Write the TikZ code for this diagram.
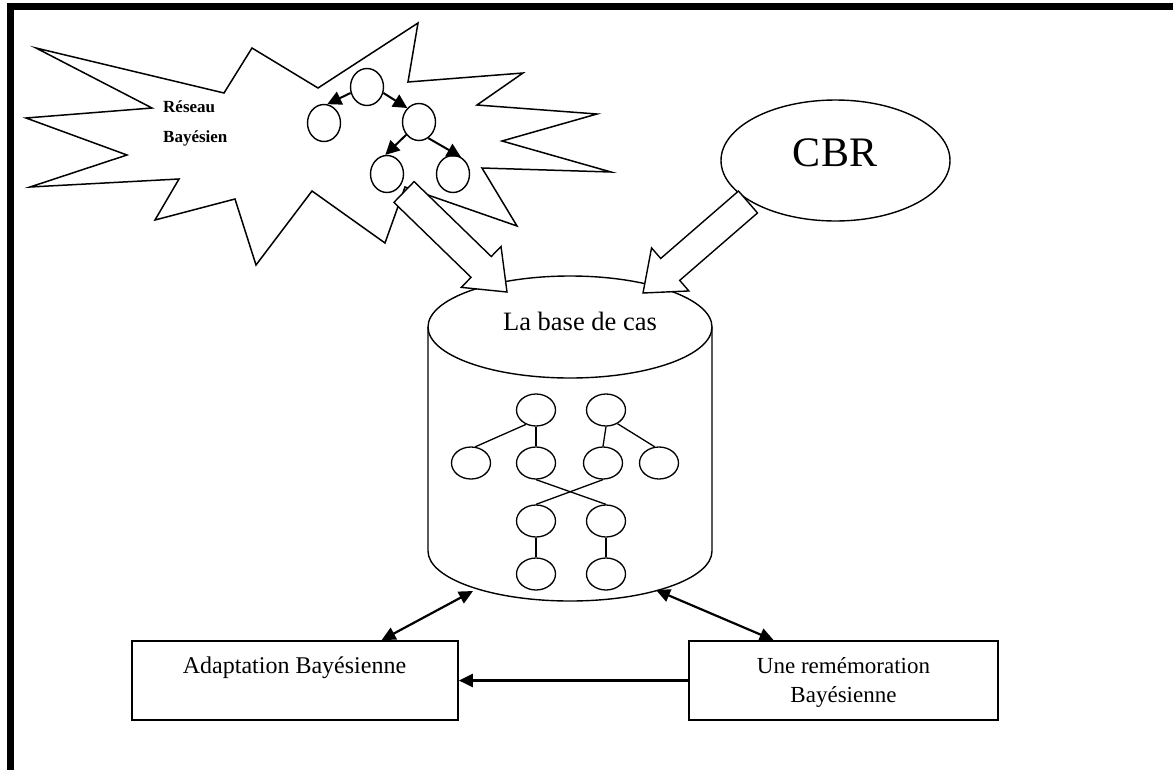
\documentclass[tikz,border=0pt]{standalone}
\usepackage{fontspec}
\setmainfont{Liberation Serif}
\usetikzlibrary{calc,arrows.meta,shapes.geometric}

\tikzset{
  netnode/.style={draw, ellipse, line width=1.4pt, minimum width=33pt, minimum height=37pt, inner sep=0pt},
  casenode/.style={draw, ellipse, line width=1.3pt, minimum width=39pt, minimum height=32pt, inner sep=0pt},
  boxnode/.style={draw, line width=1.7pt, minimum width=326pt, minimum height=79pt, inner sep=0pt},
  netarrow/.style={line width=2pt, -{Triangle[length=14pt,width=14pt]}},
  linkarrow/.style={line width=2.2pt, {Triangle[length=14pt,width=13pt]}-{Triangle[length=14pt,width=13pt]}},
}

% hollow block arrow: from, tip, name of the head base
\newcommand{\blockarrow}[3]{%
  \coordinate (#3) at ($(#2)!36pt!(#1)$);
  \draw[line width=1.4pt, fill=white]
    ($(#1)!14.5pt!90:(#2)$) -- ($(#3)!14.5pt!90:(#2)$) -- ($(#3)!28.5pt!90:(#2)$) -- (#2)
    -- ($(#3)!28.5pt!-90:(#2)$) -- ($(#3)!14.5pt!-90:(#2)$) -- ($(#1)!14.5pt!-90:(#2)$) -- cycle;}

\begin{document}
\begin{tikzpicture}[x=1pt, y=-1pt]
\useasboundingbox (0,0) rectangle (1173,769);
\draw[line width=6.7pt] (10.7,780) -- (10.7,6.7) -- (1180,6.7);

% Bayesian network cloud
\draw[line width=1.5pt] (36,48) -- (224,93) -- (252,48) -- (318,88) -- (418,23) -- (408,82)
  -- (523,73) -- (477,105) -- (597,114) -- (502,141) -- (611,172) -- (482,168) -- (517,226)
  -- (405,187) -- (385,243) -- (312,191) -- (256,265) -- (235,199) -- (155,220) -- (179,179)
  -- (30,187) -- (127,155) -- (26,118) -- (152,108) -- cycle;
\node[font=\bfseries\fontsize{17}{20}\selectfont, anchor=base west, inner sep=0pt] (reseau) at (163,112) {Réseau};
\node[font=\bfseries\fontsize{17}{20}\selectfont, anchor=base west, inner sep=0pt] (bayes) at (163,142) {Bayésien};

\node[netnode] (bnroot) at (367,87) {};
\node[netnode] (bna) at (324,123) {};
\node[netnode] (bnb) at (419,122) {};
\node[netnode] (bnc) at (387,174) {};
\node[netnode] (bnd) at (453,174) {};
\draw[netarrow] (bnroot.200) -- (bna.80);
\draw[netarrow] (bnroot.-20) -- (bnb.130);
\draw[netarrow] (bnb.225) -- (bnc.95);
\draw[netarrow] (bnb.-60) -- (bnd.65);

% CBR
\node[draw, ellipse, line width=1.4pt, minimum width=229pt, minimum height=121pt] (cbr) at (835.5,160.5) {};
\node[font=\fontsize{42}{48}\selectfont, anchor=base, inner sep=0pt] (cbrtext) at (835,166) {CBR};

% case base
\draw[line width=1.4pt] (428,327) -- (428,551) arc[start angle=180, end angle=0, x radius=142, y radius=50] -- (712,327);
\draw[line width=1.4pt] (570,327) ellipse [x radius=142, y radius=51];
\node[font=\fontsize{26.5}{30}\selectfont, anchor=base, inner sep=0pt] (basetext) at (580,330) {La base de cas};

\node[casenode] (ca1) at (536,410) {};
\node[casenode] (ca2) at (606,410) {};
\node[casenode] (cb1) at (471,463) {};
\node[casenode] (cb2) at (536,463) {};
\node[casenode] (cb3) at (603,463) {};
\node[casenode] (cb4) at (659,463) {};
\node[casenode] (cc1) at (536,521) {};
\node[casenode] (cc2) at (606,521) {};
\node[casenode] (cd1) at (536,574) {};
\node[casenode] (cd2) at (606,574) {};
\draw[line width=1.3pt] (ca1.235) -- (cb1.75);
\draw[line width=1.3pt] (ca1.south) -- (cb2.north);
\draw[line width=1.3pt] (ca2.south) -- (cb3.north);
\draw[line width=1.3pt] (ca2.-50) -- (cb4.105);
\draw[line width=1.3pt] (cb2.south) -- (cc2.north);
\draw[line width=1.3pt] (cb3.south) -- (cc1.north);
\draw[line width=1.3pt] (cc1.south) -- (cd1.north);
\draw[line width=1.3pt] (cc2.south) -- (cd2.north);

% block arrows into the case base
\coordinate (netout) at (404,192);
\coordinate (basein1) at (507,292);
\coordinate (cbrout) at (748,202);
\coordinate (basein2) at (643,293);
\blockarrow{netout}{basein1}{headnet}
\blockarrow{cbrout}{basein2}{headcbr}

% boxes
\node[boxnode] (adapt) at (295,680.5) {};
\node[font=\fontsize{24}{29}\selectfont, anchor=base, inner sep=0pt] (adapttext) at (294.5,673) {Adaptation Bayésienne};
\node[boxnode, minimum width=309pt] (remem) at (843.5,680.5) {};
\node[font=\fontsize{23}{29}\selectfont, align=center, anchor=north, inner sep=0pt] (rememtext) at (843.5,657) {Une remémoration\\Bayésienne};

\coordinate (baseleft) at (473,591);
\coordinate (baseright) at (656,590);
\draw[linkarrow] (baseleft) -- (adapt.25);
\draw[linkarrow] (baseright) -- (remem.150);
\draw[line width=2.2pt, -{Triangle[length=14pt,width=13pt]}] (remem.west) -- (adapt.east);
\end{tikzpicture}
\end{document}
